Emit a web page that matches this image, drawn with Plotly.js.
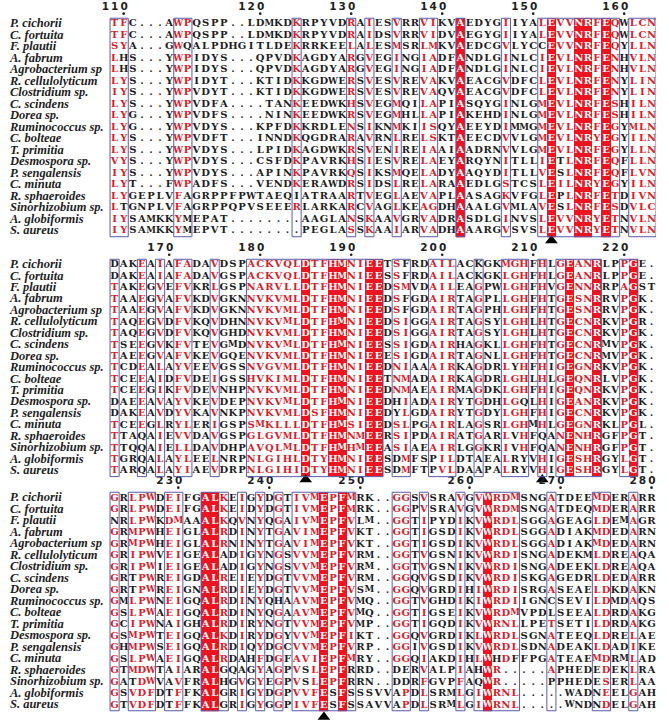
<!DOCTYPE html>
<html><head><meta charset="utf-8">
<script src="https://cdn.plot.ly/plotly-3.0.1.min.js"></script>
<style>html,body{margin:0;padding:0;background:#fff}#chart{width:669px;height:725px}</style>
</head><body><div id="chart"></div>
<script>
// ---------------- DATA ----------------
const species = ["P. cichorii","C. fortuita","F. plautii","A. fabrum","Agrobacterium sp","R. cellulolyticum","Clostridium sp.","C. scindens","Dorea sp.","Ruminococcus sp.","C. bolteae","T. primitia","Desmospora sp.","P. sengalensis","C. minuta","R. sphaeroides","Sinorhizobium sp.","A. globiformis","S. aureus"];

const block1Seqs = [
 "TFC...AWPQSPP..LDMKDKRPYVDRAIES"+"VRRVIKVAEDYGIIYALEVVNRFEQWLCN",
 "TFC...AWPQSPP..LDMKDKRPYVDRAIDS"+"VRRVIDVAEGYGIIYALEVVNRFEQWLCN",
 "SYA...GWQALPDHGITLDEKRRKEELALES"+"MSRLMKVAEDCGVLYCCEVVNRFEQYLLN",
 "LHS...YWPIDYS...QPVDKAGDYARGVEG"+"INGIADFANDLGINLCIEVLNRFENHVLN",
 "LHS...YWPIDYS...QPVDKAGDYARGVEG"+"INGIADFANDLGINLCIEVLNRFENHVLN",
 "LYS...YWPIDYT...KTIDKKGDWERSVES"+"VREVAKVAEACGVDFCLEVLNRFENYLIN",
 "IYS...YWPVDYT...KTIDKKGDWERSVES"+"VREVAQVAEACGVDFCLEVLNRFENYLIN",
 "LYS...YWPVDFA....TANKEEDWKHSVEG"+"MQILAPIASQYGINLGMEVLNRFESHILN",
 "LYG...YWPVDFS....NINKEEDWKRSVEG"+"MHLLAPIAKEHDINLGMEVLNRFESHILN",
 "LYG...YWPVDYS...KPFDKKRDLENSIKN"+"MKIISQYAEEYDIMMGMEVLNRFEGYMLN",
 "LYS...YWPVDFT...INNDKQGDRARAVRN"+"LRELSKTAEECDVVLGMEVLNRYEGYILN",
 "LYS...YWPVDYS...LPIDKAGDWKRSVEN"+"IREIAAIAADRNVVLGMEVLNRFEGYLLN",
 "VYS...YWPVDYS...CSFDKPAVRKHSIES"+"VRELAEYARQYNITLLIETLNRFEQFLLN",
 "IYS...YWPVDYS...APINKPAVRKQSIKS"+"MQELADYAAQYDITLLVESLNRFEQFLVN",
 "LYT...FWPADFS...VENDKERAWDRSIDS"+"LRELARAAEDLGSTCSLEILNRYEGYILN",
 "LYGEPLVFAGRPPFPWTAEQIATRAARTVEG"+"LAEVAPLAASAGKVFGLEPLNRFETDIVN",
 "LTGNPLVFAGRPPQPVSEEERLARKARCVAG"+"LKEAGDHAAALGVMLAVESLNRFESDVLC",
 "IYSAMKKYMEPAT........AAGLANSKAA"+"VGRVADRASDLGINVSLEVVNRYETNVLN",
 "IYSAMKKYMEPVT........PEGLASSKAA"+"IARVADHAAARGVSVSLEVVNRYETNVLN"
];
const block2Seqs = [
 "DAKEAIAFADAVDSPACKVQLDTFHMNIEE"+"TSFRDAILACKGKMGHFHLGEANRLPPGE.",
 "DAKEAIAFADAVGSPACKVQLDTFHMNIEE"+"SSFRDAILACKGKLGHFHLGEANRLPPGE.",
 "TAKEGVEFVKRLGSPNARVLLDTFHMNIEE"+"DSMVDAILEAGPWLGHFHVGENNRRPAGST",
 "TAAEGVAFVKDVGKNNVKVMLDTFHMNIEE"+"DSFGDAIRTAGPLLGHFHTGESNRRVPGK.",
 "TAAEGVAFVKDVGKNNVKVMLDTFHMNIEE"+"DSFGDAIRTAGPHLGHFHTGESNRRVPGK.",
 "TAQEGVDFVKQVDHNNVKVMLDTFHMNIEE"+"DSIGGAIRTAGSYLGHLHTGECNRKVPGR.",
 "TAQEGVDFVKQVGHDNVKVMLDTFHMNIEE"+"DSIGGAIRTAGSYLGHLHTGECNRKVPGK.",
 "TSEEGVKFVTEVGMDNVKVMLDTFHMNIEE"+"SSIGDAIRHAGKLLGHFHTGECNRMVPGK.",
 "TAEEGVAFVKEVGQENVKVMLDTFHMNIEE"+"ESIGDAIRTAGNLLGHFHTGECNRMVPGK.",
 "TCDEALAYVEEVGSSNVGVMLDTFHMNIEE"+"DNIAAAIRKAGDRLYHFHIGEGNRKVPGK.",
 "TCEEAIDFVDEIGSSHVKIMLDTFHMNIEE"+"TNMADAIRKAGDRLGHLHLGEQNRLVPGK.",
 "TCEEGIKFVDEVNHPNVKVMLDTFHMNIEE"+"DNMAEAIRMAGDKLGHFHIGEQNRKVPGK.",
 "DAEEAVAYVKEVDEPNVKVMLDTFHMNIEE"+"DHIADAIRYTGDHLGQLHIGEANRKVPGK.",
 "DAKEAVDYVKAVNKPNVKVMLDSFHMNIEE"+"DYLGDAIRYTGDYLGHFHIGECNRKVPGK.",
 "TCEEGLRYLERIGSPSMKLLLDTFHMSIEE"+"DSLPGAIRLAGSRLGHMHLGEGNRKLPGL.",
 "TTAQAIEVVDAVGSPGLGVMLDTFHMNMEE"+"RSIPDAIRATGARLVHFQANENHRGFPGT.",
 "TTQQAIELLDAVDHPAVQLMLDTFHMHMEE"+"ASIAEAIRLGGKRIVHFQANENHRGFPGT.",
 "TGRQALAYLEELNRPNLGIHLDTYHMNIEE"+"SDMFSPILDTAEALRYVHIGESHRGYLGT.",
 "TARQALAYIAEVDRPNLGIHIDTYHMNIEE"+"SDMFTPVLDAAPALRYVHIGESHRGYLGT."
];
const block3Seqs = [
 "GRLPWDEIFGALKEIGYDGTIVMEPFMRK.."+"GGSVSRAVGVWRDMSNGATDEEMDERARR",
 "GRLPWDEIFGALKEIDYDGTIVMEPFMRK.."+"GGPVSRAVGVWRDMSNGATDEQMDERARR",
 "NRLPWKDMAAALKQVNYQGAIVMEPFVLM.."+"GGTIPYDIKVWRDLSGGAGEAGLDEMAGR",
 "GRMPWHEIGLALRDINYTGAVIMEPFVKT.."+"GGTIGSDIKVWRDLSGGADIAKMDEDARN",
 "GRMPWHEIGLALRNINYTGAVIMEPFVKT.."+"GGTIGSDIKVWRDLSGGADIAKMDEDARN",
 "GRIPWVEIGEALADIGYNGSVVMEPFVRM.."+"GGTVGSNIKVWRDISNGADEKMLDREAQA",
 "GRIPWIEIGEALADIGYNGSVVMEPFVRM.."+"GGTVGSNIKVWRDISNGADEEKLDREAQA",
 "GRTPWREIGDALREIEYDGTVVMEPFVRM.."+"GGQVGSDIKVWRDISKGAGEDRLDEDARR",
 "GRTPWREIGNALRDIEYDGTVVMEPFVSM.."+"GGQVGRDIHIWRDISRGASEAELDKDAKN",
 "GMLPWNEIGQALRDINYQHAAVMEPFVMQ.."+"GGTVGHDIKIWRDIIGNCSEVILDMDAQS",
 "GSLPWAEIGQALRDINYQGAAVMEPFVMQ.."+"GGTIGSEIKVWRDMVPDLSEEALDRDAKG",
 "GCIPWNAIGHALRDIRYNGTVVMEPFVMP.."+"GGTIGQDIKVWRNLLPETSETILDRDAKG",
 "GSMPWTEIGQALKDIRYDGYVVMEPFIKT.."+"GGQVGRDIKLWRDLSGNATEEQLDRELAE",
 "GHMPWSEIGQALRDIQYDGCVVMEPFVRP.."+"GGIVGSDIKVWRDLSDNADEAKLDADIKE",
 "GSLPWAEIGQALRDAHFDGFAVIEPFMRY.."+"GGQIAKDIHLWHDFFPGATEAEMDRMLAD",
 "GTMDWTAIARALGQAGYAGPVSLEPFRRD.."+"DERVALPIAHWR.....APHEDEDEKLRA",
 "GATDWVAVFRALHGVGYEGPVSLEPFRRN.."+"DDRFGVPFAQWR.....PPHEDESERLAA",
 "GSVDFDTFFKALGRIGYDGPVVFESFSSSVV"+"APDLSRMLGIWRNL.....WADNEELGAH",
 "GTVDFDTFFKALGRIGYGGPIVFESFSSAVV"+"APDLSRMLGIWRNL.....WNDNDELGAH"
];

// residue number of the first column of each block (first sequence)
const blockStarts = [109, 164, 223];
// strictly conserved columns (white on red)
const block1Identical = [39,49,52,53,55];
const block2Identical = [22,25,26,29,30,51,54,58];
const block3Identical = [11,12,24,26,42];
// similarity boxes (column ranges)
const block1Frames = [[1,2],[8,9],[21,21],[27,27],[29,29],[32,32],[35,36],[39,39],[44,44],[48,56],[58,60]];
const block2Frames = [[1,1],[4,4],[6,6],[8,9],[12,12],[16,30],[32,33],[36,38],[41,41],[44,46],[48,48],[50,54],[57,58]];
const block3Frames = [[1,1],[3,5],[7,8],[11,13],[15,15],[17,17],[19,19],[21,27],[32,33],[35,35],[39,39],[41,45],[49,49],[54,55],[58,58]];
// residues inside boxes that are not similar (row, column)
const block1Dissimilar = [[4,2],[5,2],[17,2],[3,9],[16,9],[17,9],[18,9],[19,9],[16,21],[13,50],[14,50],[16,50],[17,50],[3,48]];
const block2Dissimilar = [[1,1],[2,1],[13,1],[14,1],[16,4],[17,4],[18,4],[19,4],[13,32],[14,32],[18,32],[19,32],[1,33],[2,33],[4,33],[5,33],[18,36],[19,36],[1,41],[2,41],[18,41],[19,41],[10,45],[16,45],[17,45],[18,45],[19,45],[13,46],[18,46],[19,46],[16,48],[17,48]];
const block3Dissimilar = [[3,1],[8,3],[9,3],[17,3],[12,7],[16,7],[17,7],[18,7],[19,7],[6,13],[7,13],[16,13],[17,13],[18,13],[19,13],[15,15],[16,15],[10,19],[16,22],[17,22],[18,25],[19,25],[16,27],[17,27],[18,27],[19,27],[16,32],[17,32],[18,32],[19,32],[16,33],[17,33],[16,41],[17,41],[15,43],[15,45],[10,49],[11,49],[17,49],[16,54],[17,54],[18,54],[19,54]];
// catalytic-site markers (columns)
const block1Markers = [49];
const block2Markers = [22,48];
const block3Markers = [24];

// ---------------- STYLE / LAYOUT ----------------
const W = 669, H = 725;
const RED = '#ea1520', REDTXT = '#d81e2a', FRAME = '#5a5aaa', BLACK = '#1e1e1e';
const COLW = 9.1, COL1PX = 114.6;             // column pitch and centre of column 1 (px)
const rowPx = [[24, 11.5], [265, 11.44], [498, 11.5]]; // first row centre, row pitch (px)
const yRanges = [[-0.85, 20.3], [-0.55, 19.9], [-0.5, 20.4]];
const markerY = [19.83, 19.75, 20.04];
const NAMEX = -10.5, NUMY = -0.42, DOTY = 0.1;
const RES_SIZE = 10, WIDE_RES_SIZE = 8.8;       // wide glyphs (M, W) slightly smaller to fit a column
const resFont = {family: 'DejaVu Serif', weight: 'bold'};
const nameFont = {family: 'Liberation Serif', size: 12.5, style: 'italic', weight: 'bold'};
const numFont = {family: 'DejaVu Sans', size: 10.5, weight: 'bold', color: BLACK};

const marginR = 13;
const xMin = 1 - COL1PX / COLW;                 // left paper edge in column units
const xMax = 1 + (W - marginR - COL1PX) / COLW;

const blocks = [
  {seqs: block1Seqs, start: blockStarts[0], ident: block1Identical, frames: block1Frames, dis: block1Dissimilar, marks: block1Markers},
  {seqs: block2Seqs, start: blockStarts[1], ident: block2Identical, frames: block2Frames, dis: block2Dissimilar, marks: block2Markers},
  {seqs: block3Seqs, start: blockStarts[2], ident: block3Identical, frames: block3Frames, dis: block3Dissimilar, marks: block3Markers}
];

const traces = [], shapes = [];
const layout = {
  width: W, height: H, autosize: false,
  margin: {l: 0, r: marginR, t: 0, b: 0, pad: 0},
  paper_bgcolor: '#fff', plot_bgcolor: 'rgba(0,0,0,0)',
  showlegend: false, hovermode: false, shapes: shapes
};

blocks.forEach((b, bi) => {
  const sfx = bi === 0 ? '' : String(bi + 1);
  const xa = 'x' + sfx, ya = 'y' + sfx;
  const [y0, s] = rowPx[bi];
  const [yTop, yBot] = yRanges[bi];
  const topPx = y0 + (yTop - 1) * s, botPx = y0 + (yBot - 1) * s;
  layout['xaxis' + sfx] = {domain: [0, 1], range: [xMin, xMax], visible: false, anchor: ya, fixedrange: true};
  layout['yaxis' + sfx] = {domain: [Math.max(0, 1 - botPx / H), Math.min(1, 1 - topPx / H)], range: [yBot, yTop], visible: false, anchor: xa, fixedrange: true};

  const nRows = b.seqs.length, nCols = b.seqs[0].length;
  const cols = Array.from({length: nCols}, (_, i) => i + 1);
  const rows = Array.from({length: nRows}, (_, i) => i + 1);
  const inFrame = c => b.frames.some(f => c >= f[0] && c <= f[1]);
  const isDis = (r, c) => b.dis.some(d => d[0] === r && d[1] === c);

  // red boxes for strictly conserved columns
  const z = b.seqs.map(seq => Array.from(seq).map((ch, i) => (b.ident.includes(i + 1) && ch !== '.') ? 1 : null));
  traces.push({type: 'heatmap', x: cols, y: rows, z: z, xaxis: xa, yaxis: ya,
    colorscale: [[0, RED], [1, RED]], zmin: 0, zmax: 1, showscale: false, hoverinfo: 'skip'});

  // residues
  const xs = [], ys = [], tx = [], cs = [], ss = [];
  b.seqs.forEach((seq, ri) => {
    Array.from(seq).forEach((ch, ci) => {
      const r = ri + 1, c = ci + 1;
      let col = BLACK;
      if (ch !== '.') {
        if (b.ident.includes(c)) col = '#ffffff';
        else if (inFrame(c) && !isDis(r, c)) col = REDTXT;
      }
      xs.push(c); ys.push(r); tx.push(ch); cs.push(col);
      ss.push((ch === 'M' || ch === 'W') ? WIDE_RES_SIZE : RES_SIZE);
    });
  });
  traces.push({type: 'scatter', mode: 'text', x: xs, y: ys, text: tx, xaxis: xa, yaxis: ya,
    textposition: 'middle center', textfont: Object.assign({}, resFont, {color: cs, size: ss}),
    cliponaxis: false, hoverinfo: 'skip'});

  // species names
  traces.push({type: 'scatter', mode: 'text', x: rows.map(() => NAMEX), y: rows, text: species,
    xaxis: xa, yaxis: ya, textposition: 'middle right',
    textfont: Object.assign({}, nameFont, {color: BLACK}), cliponaxis: false, hoverinfo: 'skip'});

  // numbering from first sequence
  const tc = [], tl = [];
  let pos = b.start;
  Array.from(b.seqs[0]).forEach((ch, ci) => {
    if (ch !== '.') { if (pos % 10 === 0) { tc.push(ci + 1); tl.push(String(pos).split('').join('\u2009')); } pos++; }
  });
  traces.push({type: 'scatter', mode: 'text', x: tc.map(c => c + 0.45), y: tc.map(() => NUMY), text: tl,
    xaxis: xa, yaxis: ya, textposition: 'middle left', textfont: numFont, cliponaxis: false, hoverinfo: 'skip'});
  traces.push({type: 'scatter', mode: 'markers', x: tc, y: tc.map(() => DOTY), xaxis: xa, yaxis: ya,
    marker: {symbol: 'circle', size: 2.6, color: BLACK}, cliponaxis: false, hoverinfo: 'skip'});

  // triangles
  traces.push({type: 'scatter', mode: 'markers', x: b.marks, y: b.marks.map(() => markerY[bi]), xaxis: xa, yaxis: ya,
    marker: {symbol: 'triangle-up', size: 11, color: '#000'}, cliponaxis: false, hoverinfo: 'skip'});

  // similarity frames
  b.frames.forEach(f => {
    shapes.push({type: 'rect', xref: xa, yref: ya, x0: f[0] - 0.5, x1: f[1] + 0.5, y0: 0.5, y1: nRows + 0.5,
      line: {color: FRAME, width: 1}, fillcolor: 'rgba(0,0,0,0)', layer: 'above'});
  });
});

Plotly.newPlot('chart', traces, layout, {staticPlot: true, displayModeBar: false});
</script>
</body></html>
